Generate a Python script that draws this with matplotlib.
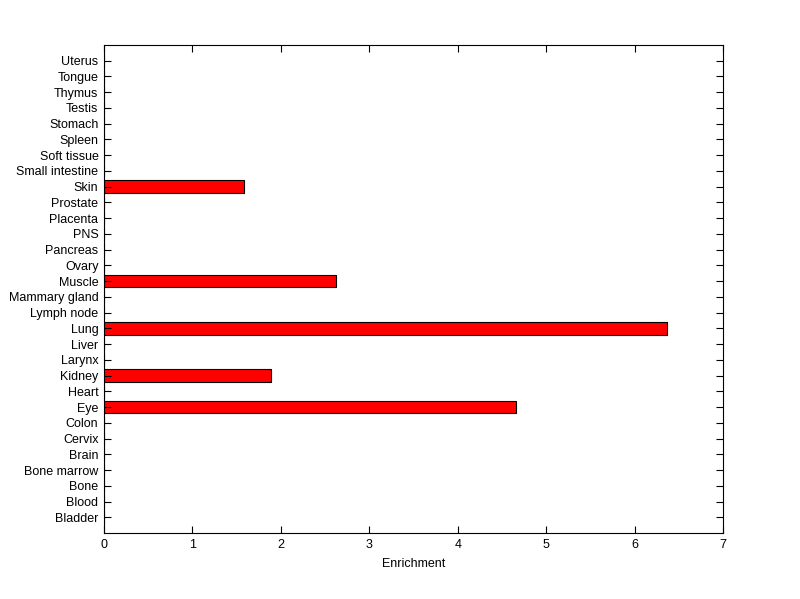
import matplotlib
matplotlib.use('Agg')
import matplotlib.pyplot as plt

'''horizontal bar chart of tissue enrichment'''

tissues = ['Bladder', 'Blood', 'Bone', 'Bone marrow', 'Brain', 'Cervix', 'Colon',
           'Eye', 'Heart', 'Kidney', 'Larynx', 'Liver', 'Lung', 'Lymph node',
           'Mammary gland', 'Muscle', 'Ovary', 'Pancreas', 'PNS', 'Placenta',
           'Prostate', 'Skin', 'Small intestine', 'Soft tissue', 'Spleen',
           'Stomach', 'Testis', 'Thymus', 'Tongue', 'Uterus']
enrichment = [0, 0, 0, 0, 0, 0, 0,
              4.66, 0, 1.89, 0, 0, 6.37, 0,
              0, 2.62, 0, 0, 0, 0,
              0, 1.58, 0, 0, 0,
              0, 0, 0, 0, 0]

plt.rcParams['font.family'] = ['Liberation Sans', 'DejaVu Sans']
plt.rcParams['font.size'] = 9

fig = plt.figure(figsize=(8, 5.99), dpi=100)
ax = fig.add_axes([0.13, 0.11, 0.774, 0.815])

pos = list(range(1, len(tissues) + 1))
ax.barh(pos, enrichment, height=0.8, color='red', edgecolor='black', linewidth=0.8)

ax.set_xlim(0, 7)
ax.set_ylim(0, len(tissues) + 1)
ax.set_yticks(pos)
ax.set_yticklabels(tissues)
ax.set_xticks(range(0, 8))
ax.set_xlabel('Enrichment', labelpad=5)
ax.tick_params(direction='in', length=5, width=0.8, top=True, right=True, pad=4)
for s in ax.spines.values():
    s.set_linewidth(0.8)

fig.savefig('out.png', dpi=100)
